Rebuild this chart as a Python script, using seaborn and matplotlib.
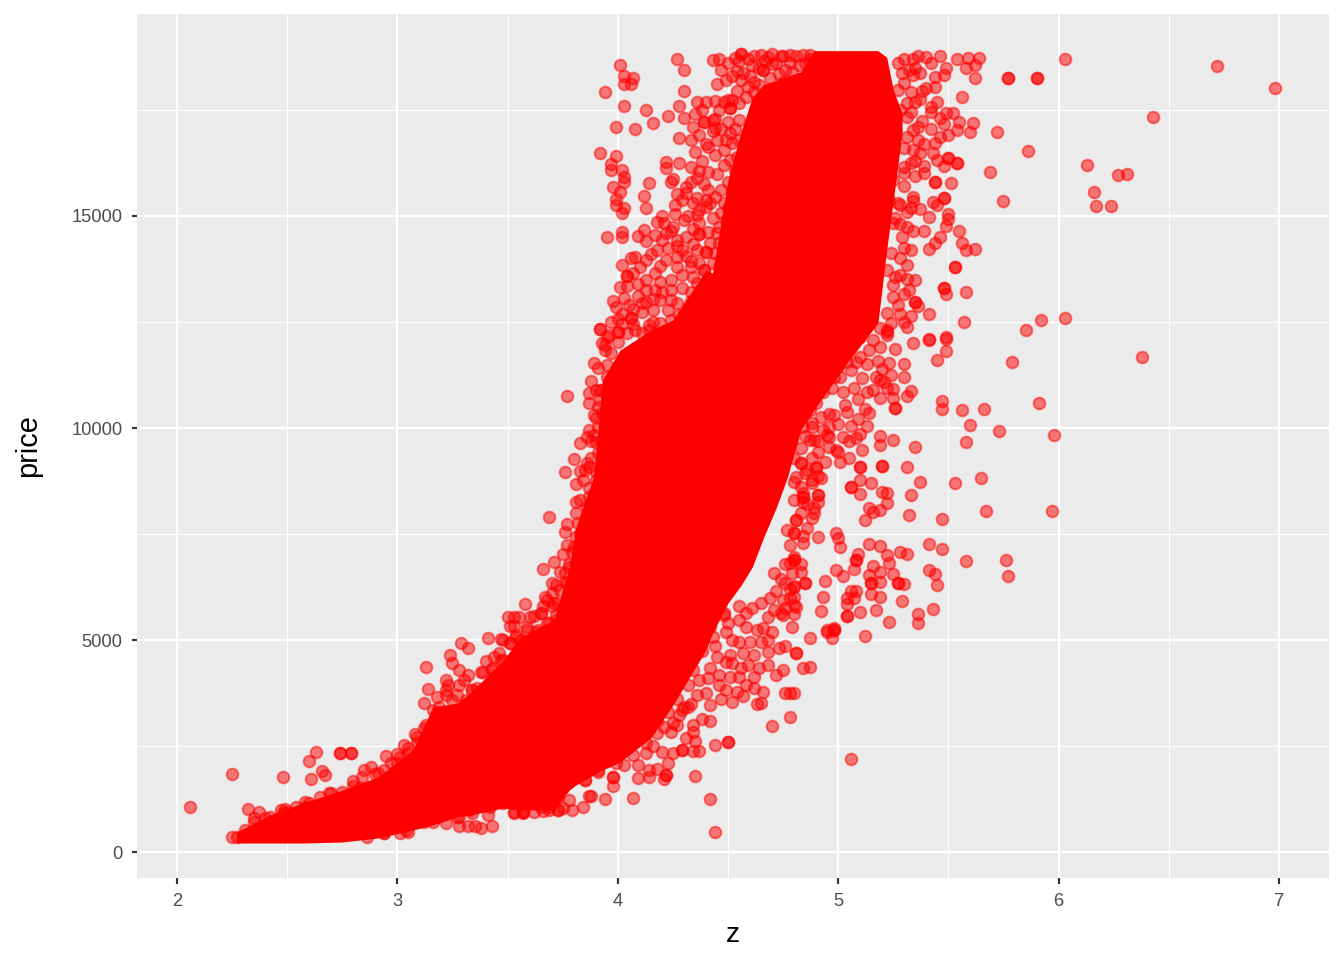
import pandas as pd
import numpy as np
import matplotlib
matplotlib.use("Agg")
import matplotlib.pyplot as plt
import seaborn as sns

# Values. The saturated middle of the cloud is too dense to
# read point by point, so it is kept as a low/high outline per z value.
band_z = [2.27, 2.42, 2.57, 2.75, 2.91, 3.07, 3.16, 3.27, 3.33, 3.48, 3.56, 3.71, 3.78, 3.81, 3.89, 3.91, 3.93,
          4.01, 4.15, 4.25, 4.40, 4.43, 4.50, 4.56, 4.61, 4.66, 4.72, 4.77, 4.83, 4.89, 5.04, 5.18, 5.22, 5.25, 5.29]
band_low = [212, 212, 212, 236, 330, 519, 637, 825, 872, 1038, 990, 990, 1462, 1580, 1816, 1886, 1934,
            2122, 2688, 3466, 4763, 5164, 5871, 6296, 6720, 7400, 8135, 8843, 9951, 10422, 11531, 12474, 14195, 15374, 16954]
band_high = [472, 872, 1155, 1462, 1769, 2405, 3419, 3513, 3749, 4527, 5070, 5471, 6720, 7664, 8843, 9951, 11130,
             11837, 12309, 12545, 13724, 13653, 15846, 17000, 17800, 18100, 18200, 18300, 18400, 18900, 18900, 18900, 18746, 17968, 17426]

# single points, by area of the plot
far_right = [(6.03, 18707), (6.72, 18534), (6.98, 18023), (5.77, 18243), (5.77, 18243), (5.90, 18243), (5.90, 18243),
             (6.43, 17331), (5.72, 16970), (5.86, 16537), (6.13, 16200), (5.69, 16042), (6.27, 15970), (6.31, 15980),
             (6.16, 15563), (6.17, 15233), (6.24, 15233), (5.75, 15350), (6.03, 12592), (5.92, 12545), (5.85, 12300),
             (6.38, 11672), (5.79, 11547), (5.91, 10580), (5.66, 10454), (5.60, 10077), (5.73, 9935), (5.98, 9825),
             (5.65, 8811), (5.67, 8041), (5.97, 8049), (5.76, 6878), (5.77, 6508), (5.58, 6862), (5.58, 9668),
             (5.56, 10430), (5.53, 8709), (5.06, 2185)]

upper_right = [(5.62, 18243), (5.56, 17803), (5.64, 18715), (5.59, 18730), (5.54, 18691), (5.62, 18557), (5.58, 18495),
               (5.49, 18479), (5.48, 18322), (5.46, 18770), (5.36, 18777), (5.34, 18691), (5.42, 18597), (5.37, 18377),
               (5.34, 18337), (5.44, 18267), (5.44, 18047), (5.40, 18007), (5.37, 17748), (5.45, 17693), (5.42, 17575),
               (5.42, 17457), (5.49, 17418), (5.52, 17418), (5.46, 17323), (5.55, 17221), (5.61, 17198), (5.60, 16970),
               (5.54, 17025), (5.48, 17158), (5.50, 16907), (5.46, 16868), (5.44, 16726), (5.39, 16695), (5.37, 16475),
               (5.43, 16475), (5.45, 16317), (5.50, 16372), (5.50, 16372), (5.54, 16239), (5.54, 16239), (5.48, 16184),
               (5.39, 16176), (5.39, 16003), (5.35, 15940), (5.44, 15807), (5.44, 15807), (5.51, 15775), (5.34, 15437),
               (5.34, 15350), (5.43, 15319), (5.48, 15421), (5.48, 15421), (5.45, 15256), (5.27, 15311), (5.37, 15154),
               (5.31, 15083), (5.41, 14981), (5.50, 15044), (5.50, 14918), (5.26, 14942), (5.49, 14769), (5.39, 14651),
               (5.55, 14651), (5.46, 14494), (5.44, 14352), (5.56, 14352), (5.41, 14211), (5.58, 14195), (5.62, 14219),
               (5.53, 13802), (5.53, 13802), (5.48, 13291), (5.48, 13291), (5.49, 13158), (5.58, 13197), (5.32, 13252),
               (5.35, 12977), (5.35, 12977), (5.36, 12875), (5.41, 12686), (5.31, 13503), (5.26, 13551), (5.30, 12505),
               (5.31, 12372), (5.57, 12505), (5.49, 12136), (5.41, 12090)]

lobe_edge = [(5.27, 18597), (5.29, 18361), (5.30, 18125), (5.33, 17929), (5.31, 17654), (5.28, 17496), (5.31, 17339),
             (5.34, 17025), (5.36, 16789), (5.34, 16553), (5.31, 16868), (5.33, 16239), (5.30, 16003), (5.25, 15846),
             (5.21, 15689), (5.23, 15374), (5.20, 15138), (5.25, 14824), (5.29, 14509), (5.31, 14745), (5.24, 14117),
             (5.30, 14235), (5.22, 13724), (5.25, 13370), (5.25, 13095), (5.27, 12898), (5.22, 12702), (5.24, 12466),
             (5.19, 12348), (5.22, 12309), (5.30, 16160), (5.27, 17968), (5.35, 18500), (5.30, 18700), (5.40, 18750),
             (5.32, 18450), (5.38, 17950), (5.35, 17700), (5.33, 17450), (5.38, 17250), (5.42, 17050), (5.36, 17100),
             (5.30, 16600), (5.35, 16300), (5.30, 15700), (5.28, 15250), (5.33, 15200), (5.28, 14800), (5.34, 14650),
             (5.33, 14200), (5.28, 14000), (5.31, 13850), (5.28, 13600), (5.35, 13500), (5.30, 13150), (5.28, 12700),
             (5.33, 12650), (5.22, 12200)]

mid_right = [(5.49, 12097), (5.41, 12073), (5.34, 11995), (5.49, 11822), (5.45, 11602), (5.30, 11507), (5.23, 11523),
             (5.26, 11853), (5.18, 11586), (5.24, 11248), (5.30, 11209), (5.33, 10871), (5.31, 10761), (5.25, 10918),
             (5.25, 10713), (5.26, 10478), (5.26, 10478), (5.12, 10446), (5.14, 10344), (5.19, 11130), (5.16, 10894),
             (5.47, 10643), (5.47, 10438), (5.19, 9809), (5.19, 9605), (5.25, 9723), (5.35, 9550), (5.11, 9479),
             (4.91, 9440), (5.31, 9071), (5.20, 9094), (5.20, 9094), (5.10, 9079), (5.10, 9079), (5.05, 9299),
             (5.01, 9189), (5.37, 8733), (5.15, 8709), (5.10, 8780), (5.06, 8615), (5.06, 8615), (5.10, 8442),
             (5.20, 8497), (5.22, 8473), (5.33, 8426), (4.91, 8418), (4.91, 8261), (5.22, 8222), (5.14, 8104),
             (5.19, 8065), (5.16, 8025), (5.32, 7939), (5.12, 7837), (5.47, 7852), (4.91, 7420), (4.84, 7294),
             (4.99, 7530), (5.00, 7397), (5.01, 7200), (5.14, 7263), (5.19, 7224), (5.22, 7003), (5.28, 7082),
             (5.31, 7019), (5.41, 7263), (5.47, 7137), (5.09, 7027), (5.08, 6886), (5.08, 6886), (5.23, 6807),
             (5.16, 6752), (5.07, 6673), (4.99, 6642), (5.02, 6516), (5.41, 6658), (5.44, 6563), (5.45, 6288),
             (5.19, 6595), (5.14, 6532), (5.25, 6555), (5.27, 6335), (5.27, 6335), (5.30, 6320), (5.15, 6335),
             (5.15, 6335), (5.19, 6359), (4.94, 6383), (4.85, 6335), (4.85, 6335), (4.80, 6272), (4.93, 6013),
             (5.06, 6162), (5.08, 6155), (5.15, 6092), (5.04, 6000), (5.04, 5848), (5.07, 5989), (5.19, 6005),
             (5.29, 5919), (4.92, 5683), (5.10, 5667), (5.17, 5699), (5.43, 5730), (5.36, 5604), (5.36, 5408),
             (5.04, 5557), (5.23, 5431), (4.98, 5274), (4.95, 5235), (4.79, 5314), (4.80, 5825), (4.80, 5612),
             (4.75, 5589), (4.89, 11445), (4.93, 11012), (4.93, 11012), (4.98, 11209), (4.88, 10108), (4.95, 9833),
             (4.89, 9715), (5.00, 9440), (4.83, 9165), (4.90, 9047), (4.81, 8851), (4.88, 8772), (4.84, 8379),
             (4.84, 8379), (4.91, 8418), (4.81, 7829), (4.89, 7986), (4.80, 7514), (4.80, 6886), (4.80, 6886),
             (4.71, 6571), (4.80, 6257), (4.78, 5982), (4.81, 5785), (4.71, 5707), (4.74, 5628), (4.65, 5864),
             (4.58, 5628), (4.48, 5628)]

mid_right_dense = [(4.77, 11995), (4.83, 12152), (4.89, 12112), (4.95, 12191), (5.02, 12073), (5.10, 12152),
                   (5.16, 12073), (5.22, 12270), (5.19, 11916), (5.14, 11837), (5.10, 11680), (5.04, 11562),
                   (4.98, 11719), (4.92, 11837), (4.87, 11523), (4.83, 11366), (4.78, 11523), (4.93, 11444),
                   (5.01, 11209), (5.06, 11366), (5.11, 11169), (5.17, 11209), (5.21, 11091), (4.93, 11091),
                   (4.93, 10855), (4.86, 10894), (4.81, 10658), (4.77, 10580), (4.87, 10423), (4.96, 10328),
                   (4.98, 10305), (5.03, 10540), (5.09, 10674), (5.04, 10383), (5.09, 10203), (4.88, 10030),
                   (4.87, 9715), (4.96, 9794), (5.02, 9794), (5.08, 9755), (5.10, 9857), (4.96, 10030), (4.78, 10069),
                   (4.79, 9715), (4.99, 9479), (4.83, 9519), (4.80, 9283), (4.83, 9165), (4.86, 9008), (4.90, 9086),
                   (4.91, 8874), (4.88, 8693), (4.80, 8733), (4.84, 8458), (4.84, 8261), (4.89, 8104), (4.88, 7868),
                   (4.80, 8300), (4.81, 7829), (4.77, 7593), (4.80, 7514), (4.78, 6807), (4.80, 6964), (4.79, 6571),
                   (4.76, 6335), (4.80, 6021), (4.75, 5942), (4.92, 8811), (4.84, 10030), (4.81, 11800), (4.85, 11700),
                   (4.90, 11650), (4.95, 11550), (5.00, 11450), (5.08, 11550), (5.13, 11500), (5.20, 11400),
                   (4.84, 11150), (4.90, 11200), (4.97, 10950), (5.02, 10850), (5.07, 10950), (5.13, 10850),
                   (5.19, 10700), (5.22, 10950), (4.82, 10950), (4.90, 10600), (4.85, 10350), (4.92, 10250),
                   (5.00, 10100), (5.06, 10050), (5.13, 10050), (4.82, 10200), (4.93, 9950), (4.85, 9800), (4.91, 9700),
                   (5.05, 9700), (4.96, 9550), (4.88, 9300), (4.94, 9200), (4.85, 8950), (4.83, 8600), (4.86, 8200),
                   (4.83, 8000), (4.86, 7650), (4.84, 7450), (4.78, 7250), (4.83, 6800), (4.83, 6600), (4.76, 6800),
                   (4.74, 6450), (4.78, 6200), (4.72, 6150), (4.69, 6000), (4.76, 5750), (4.68, 5550)]

upper_left = [(4.01, 18550), (4.27, 18707), (4.30, 18440), (4.03, 18298), (4.07, 18243), (4.03, 18117), (4.06, 18117),
              (3.94, 17913), (4.45, 18110), (4.30, 17937), (4.03, 17599), (4.13, 17504), (4.28, 17606), (4.23, 17355),
              (4.16, 17198), (3.99, 17103), (4.08, 17048), (4.28, 16828), (3.92, 16475), (3.99, 16412), (3.97, 16223),
              (3.97, 16082), (4.22, 16278), (4.22, 16137), (4.28, 16255), (4.02, 16082), (4.03, 15924), (4.03, 15806),
              (3.98, 15681), (4.14, 15767), (4.01, 15571), (4.12, 15476), (3.99, 15398), (3.99, 15256), (4.03, 15194),
              (4.02, 15076), (4.13, 15186), (4.26, 15256), (4.26, 15036), (4.25, 15870), (4.24, 15806), (4.31, 15689),
              (4.31, 15531), (4.27, 15508), (4.29, 15374), (4.36, 15885), (4.36, 15421), (4.20, 15005), (4.18, 14848),
              (4.21, 14840), (4.25, 14730), (4.24, 14651), (4.02, 14627), (4.02, 14494), (3.95, 14502), (4.12, 14667),
              (4.09, 14525), (4.13, 14400), (4.20, 14431), (4.27, 14431), (4.27, 14297), (4.18, 14195), (4.23, 14235),
              (4.13, 13967), (4.08, 14038), (4.06, 13999), (4.22, 13960), (4.27, 14038), (4.33, 13944), (4.37, 14565),
              (4.40, 14156), (4.39, 13723), (4.33, 13787), (4.19, 13826), (4.27, 13802), (4.04, 13582), (4.04, 13582),
              (4.13, 13488), (4.01, 13315), (4.04, 13346), (4.09, 13110), (3.98, 12996), (4.03, 13055), (3.99, 12859),
              (4.13, 12961), (4.05, 12898), (4.00, 12568), (4.06, 12584), (4.06, 12584), (4.11, 12741), (3.92, 12325),
              (4.00, 12269), (4.14, 12427), (4.43, 18675), (4.46, 18691), (4.50, 18612), (4.53, 18738), (4.56, 18809),
              (4.56, 18809), (4.62, 18770), (4.65, 18793), (4.70, 18809), (4.75, 18777), (4.81, 18777), (4.84, 18793),
              (4.54, 18424), (4.57, 18377), (4.61, 18557), (4.66, 18440), (4.66, 18440), (4.70, 18573), (4.76, 18440),
              (4.62, 18164), (4.54, 17952), (4.62, 17929), (4.50, 17732), (4.44, 17701), (4.40, 17677), (4.36, 17677),
              (4.38, 17496), (4.44, 17284), (4.39, 17206), (4.43, 17009), (4.51, 17536)]

top_edge = [(4.60, 18300), (4.64, 18100), (4.67, 18650), (4.69, 18250), (4.72, 18600), (4.73, 18350), (4.75, 18150),
            (4.78, 18620), (4.79, 18400), (4.82, 18550), (4.85, 18620), (4.87, 18700), (4.59, 18050), (4.56, 18200),
            (4.52, 18300), (4.49, 18200), (4.47, 18450), (4.58, 17800), (4.55, 18650), (4.59, 18700), (4.64, 18500),
            (4.68, 18750), (4.74, 18780), (4.78, 18790), (4.87, 18800)]

upper_left_dense = [(4.39, 17221), (4.43, 17261), (4.44, 17064), (4.51, 17536), (4.52, 17732), (4.55, 17654),
                    (4.50, 17221), (4.55, 17261), (4.45, 16789), (4.49, 16789), (4.41, 16616), (4.44, 16435),
                    (4.48, 16553), (4.52, 16710), (4.55, 16789), (4.41, 16042), (4.45, 15979), (4.48, 16199),
                    (4.51, 16317), (4.54, 16396), (4.41, 15610), (4.47, 15610), (4.40, 15374), (4.44, 15453),
                    (4.48, 15296), (4.36, 15020), (4.40, 15217), (4.37, 14840), (4.43, 14942), (4.47, 15060),
                    (4.41, 14627), (4.45, 14588), (4.37, 14573), (4.42, 14352), (4.46, 14352), (4.40, 14156),
                    (4.44, 14117), (4.43, 13881), (4.46, 13802), (4.39, 13724), (4.36, 13409), (4.40, 13331),
                    (4.45, 13488), (4.33, 13213), (4.37, 13095), (4.43, 13095), (4.27, 12938), (4.32, 12859),
                    (4.24, 13016), (4.19, 13016), (4.23, 12780), (4.28, 12663), (4.34, 12663), (4.16, 12780),
                    (4.19, 12466), (4.25, 12309), (4.31, 12388), (4.37, 12388), (4.14, 12309), (4.08, 12309),
                    (4.04, 12230), (4.11, 12230), (4.43, 12780), (4.30, 17300), (4.34, 17100), (4.37, 16900),
                    (4.40, 16700), (4.35, 16500), (4.38, 16300), (4.33, 16150), (4.37, 16050), (4.33, 15800),
                    (4.39, 15750), (4.42, 15300), (4.34, 15300), (4.37, 15150), (4.32, 15000), (4.30, 14900),
                    (4.34, 14700), (4.31, 14500), (4.34, 14350), (4.29, 14200), (4.36, 14200), (4.31, 14050),
                    (4.37, 13900), (4.29, 13600), (4.34, 13550), (4.24, 13500), (4.19, 13450), (4.29, 13300),
                    (4.24, 13250), (4.17, 13250), (4.13, 13250), (4.09, 13400), (4.20, 13200), (4.33, 13000),
                    (4.16, 13050), (4.11, 12950), (4.07, 12800), (4.02, 12700), (3.97, 12500), (3.95, 12150),
                    (4.02, 12450), (4.07, 12450), (4.16, 12500), (4.24, 12550), (4.35, 17400), (4.33, 16800),
                    (4.46, 17500), (4.48, 17700), (4.47, 17050), (4.53, 17050), (4.51, 16950), (4.53, 16050),
                    (4.50, 15800), (4.52, 15600), (4.50, 15200), (4.49, 14900), (4.46, 14750), (4.49, 14500),
                    (4.48, 14200), (4.49, 13950), (4.47, 13600), (4.41, 13150), (4.43, 12950), (4.46, 13250),
                    (4.38, 12800), (4.40, 12600), (4.33, 12500), (4.30, 12700), (4.22, 14600), (4.17, 14550),
                    (4.15, 14100), (4.10, 13800), (4.17, 13650), (4.07, 13650), (4.02, 13850)]

mid_left = [(3.92, 12325), (4.00, 12270), (3.94, 11955), (3.94, 11838), (4.00, 12034), (3.89, 11523), (3.91, 11421),
            (3.95, 11484), (3.77, 10753), (3.87, 10816), (3.87, 10580), (3.91, 10486), (3.92, 10894), (3.90, 10226),
            (3.87, 9951), (3.86, 9794), (3.90, 9676), (3.83, 9637), (3.80, 9275), (3.76, 8961), (3.83, 8984),
            (3.88, 9283), (3.86, 9165), (3.90, 8969), (3.81, 8678), (3.84, 8772), (3.87, 8576), (3.81, 8246),
            (3.81, 8002), (3.69, 7892), (3.86, 8143), (3.77, 7735), (3.76, 7554), (3.82, 7750), (3.81, 7436),
            (3.77, 7240), (3.75, 7019), (3.71, 6839), (3.66, 6674), (3.79, 7082), (3.70, 6336), (3.76, 6375),
            (3.67, 6021), (3.70, 6115), (3.70, 5801), (3.73, 5864), (3.65, 5628), (3.97, 11759), (3.95, 11209),
            (3.93, 10894), (3.92, 10659), (3.93, 10344), (3.91, 10030), (3.89, 9833), (3.93, 9637), (3.91, 9401),
            (3.87, 9087), (3.90, 8772), (3.87, 8379), (3.86, 7907), (3.83, 7515), (3.85, 7750), (3.80, 7200),
            (3.83, 7043), (3.78, 6729), (3.81, 6807), (3.76, 6571), (3.74, 6178), (3.77, 6336), (3.71, 5864),
            (3.75, 5628), (3.54, 5117), (3.59, 5235), (3.63, 5195), (3.69, 5156), (3.51, 4920), (3.56, 5000),
            (3.60, 4881), (3.47, 4527), (3.48, 5000), (3.85, 7700), (3.83, 8300), (3.85, 9000), (3.88, 9700),
            (3.89, 10300), (3.90, 10900), (3.88, 11100), (3.93, 12000), (3.96, 12200), (3.78, 6800), (3.74, 6600),
            (3.72, 6300), (3.72, 5600), (3.66, 5800), (3.60, 5550), (3.68, 5950)]

lower_right = [(5.12, 5093), (4.87, 5054), (4.98, 5235), (4.98, 5235), (4.97, 5054), (4.95, 5195), (5.04, 5565),
               (4.76, 4857), (4.68, 4708), (4.81, 4684), (4.81, 4684), (4.87, 4370), (4.84, 4331), (4.75, 4291),
               (4.72, 4166), (4.64, 4331), (4.62, 4134), (4.78, 3741), (4.76, 3741), (4.80, 3741), (4.66, 3765),
               (4.62, 3859), (4.57, 3686), (4.52, 3537), (4.47, 3608), (4.63, 3490), (4.65, 3505), (4.78, 3175),
               (4.70, 2971), (4.42, 3458), (4.38, 3128), (4.42, 3097), (4.34, 2995), (4.34, 2837), (4.31, 2680),
               (4.35, 2625), (4.50, 2586), (4.50, 2586), (4.44, 2515), (4.37, 2381), (4.34, 2381), (4.29, 2405),
               (4.29, 2405), (4.25, 2342), (4.20, 2350), (4.13, 2326), (4.23, 2090), (4.22, 1815), (4.22, 1815),
               (4.35, 1792), (4.18, 1949), (4.14, 1776), (4.21, 1713), (4.09, 1737), (3.98, 1776), (3.98, 1776),
               (3.98, 1564), (3.85, 1698), (3.91, 1894), (3.87, 1328), (3.88, 1328), (3.94, 1250), (4.07, 1281),
               (4.42, 1257), (4.44, 471), (3.78, 1226), (3.79, 990), (3.84, 1053), (3.73, 1305), (3.69, 990),
               (3.62, 950), (3.57, 912), (3.53, 912), (3.75, 1030), (4.43, 5077), (4.48, 5588), (4.55, 5470),
               (4.58, 5313), (4.63, 5234), (4.66, 5274), (4.49, 5195), (4.52, 5000), (4.65, 4959), (4.51, 4645),
               (4.45, 4606), (4.57, 4684), (4.62, 4645), (4.49, 4488), (4.52, 4449), (4.56, 4331), (4.51, 4134),
               (4.55, 4134), (4.46, 4174), (4.41, 4095), (4.37, 4056), (4.46, 3938), (4.54, 3780), (4.49, 3820),
               (4.36, 3702), (4.30, 3427), (4.32, 3427), (4.28, 3230), (4.27, 2995), (4.24, 2837), (4.29, 3348),
               (4.21, 2955), (4.18, 2798), (4.13, 2562), (4.07, 2287), (4.09, 2051), (4.14, 1933), (4.03, 2051),
               (3.99, 2090), (3.91, 1933), (3.81, 1855), (3.78, 1698), (3.85, 1698), (3.73, 1383), (3.66, 1423),
               (3.65, 1147), (3.58, 1305), (3.53, 1147), (3.57, 951), (3.69, 1069), (3.73, 990), (4.61, 5750),
               (4.55, 5800), (4.50, 5400), (4.42, 5300), (4.38, 4750), (4.44, 4850), (4.55, 4950), (4.60, 4950),
               (4.70, 5200), (4.73, 4800), (4.42, 4350), (4.34, 4300), (4.32, 3950), (4.40, 3750), (4.33, 3500),
               (4.27, 3600), (4.23, 3300), (4.18, 3100), (4.25, 3050), (4.12, 2800), (4.07, 2600), (4.00, 2300),
               (3.95, 2150), (4.16, 2500), (4.59, 4400), (4.68, 4400), (4.58, 3950), (4.68, 5000)]

lower_left = [(2.06, 1069), (2.25, 1831), (2.48, 1776), (2.32, 1014), (2.37, 951), (2.47, 990), (2.49, 1006),
              (2.54, 1053), (2.58, 1187), (2.63, 2366), (2.60, 2153), (2.61, 1713), (2.66, 1918), (2.67, 1815),
              (2.74, 2326), (2.74, 2326), (2.79, 2326), (2.79, 2326), (2.80, 1674), (2.84, 1776), (2.85, 1934),
              (2.88, 2012), (2.95, 2264), (3.00, 2311), (3.03, 2523), (3.08, 2774), (3.09, 2720), (3.13, 2994),
              (3.12, 3505), (3.14, 3835), (3.22, 3820), (3.23, 3938), (3.22, 4056), (3.13, 4370), (3.24, 4645),
              (3.25, 4448), (3.29, 4920), (3.32, 4802), (3.28, 4291), (3.30, 4056), (3.32, 4174), (3.41, 5054),
              (3.47, 5022), (3.46, 4684), (3.58, 5840), (3.50, 5549), (3.53, 5549), (3.55, 5549), (3.51, 5329),
              (3.53, 5329), (3.62, 5573), (3.65, 5628), (3.59, 5313), (3.64, 5234), (3.68, 5407), (3.72, 5470),
              (3.43, 613), (3.38, 574), (3.35, 613), (3.32, 613), (3.28, 613), (3.16, 715), (3.22, 676), (3.05, 479),
              (3.01, 440), (2.94, 440), (3.53, 950), (3.57, 935), (3.66, 974), (3.73, 990), (2.25, 361), (2.27, 346),
              (2.31, 518), (2.35, 715), (3.24, 990), (3.28, 833), (3.41, 872), (3.34, 912), (3.38, 4252), (3.43, 4291),
              (3.34, 3820), (3.36, 3859), (2.42, 833), (2.48, 912), (2.58, 1069), (2.65, 1305), (2.69, 1383),
              (2.75, 1423), (2.83, 1501), (2.91, 1855), (2.94, 1933), (2.97, 2090), (3.01, 2248), (3.05, 2326),
              (3.09, 2562), (3.12, 2916), (3.16, 3348), (3.19, 3427), (3.25, 3584), (3.31, 3584), (3.34, 3820),
              (3.39, 4252), (3.43, 4331), (3.48, 4527), (3.54, 5077), (3.59, 4842), (3.65, 5156), (3.69, 5392),
              (3.75, 5706), (3.51, 4920), (3.60, 1305), (3.68, 1305), (3.73, 1383), (3.65, 1069), (3.54, 1226),
              (3.48, 1147), (3.42, 1069), (3.33, 990), (3.27, 833), (3.18, 833), (3.12, 715), (3.04, 519), (2.94, 440),
              (2.86, 361), (3.76, 1698), (3.72, 1462), (3.44, 4600), (3.40, 4500), (3.28, 3950), (3.22, 3700),
              (3.18, 3650), (3.27, 3700), (3.05, 2450), (3.00, 2100), (2.90, 1850), (2.80, 1550), (2.70, 1400),
              (2.60, 1150), (2.50, 950), (2.40, 800), (2.35, 800)]

x_major = [2, 3, 4, 5, 6, 7]
x_minor = [2.5, 3.5, 4.5, 5.5, 6.5]
y_major = [0, 5000, 10000, 15000]
y_minor = [2500, 7500, 12500, 17500]

df = pd.DataFrame(far_right + upper_right + lobe_edge + mid_right + mid_right_dense + upper_left + top_edge
                  + upper_left_dense + mid_left + lower_right + lower_left, columns=['z', 'price'])

sns.set_theme(style='darkgrid', rc={'axes.facecolor': '#EBEBEB', 'grid.color': 'white'})
plt.rcParams['font.family'] = ['Liberation Sans', 'DejaVu Sans']

fig = plt.figure(figsize=(1344 / 144, 960 / 144), dpi=144)
ax = fig.add_axes([137 / 1344, 1 - 878 / 960, (1329 - 137) / 1344, (878 - 14) / 960])

# saturated part of the cloud
ax.fill_between(band_z, band_low, band_high, color='red', lw=0, zorder=2)
sns.scatterplot(data=df, x='z', y='price', color='red', alpha=0.5, s=34, edgecolor='red', linewidth=1, ax=ax, zorder=3)

ax.set_xlim(1.8185, 7.227)
ax.set_ylim(-613, 19764)
ax.set_xticks(x_major)
ax.set_xticks(x_minor, minor=True)
ax.set_yticks(y_major)
ax.set_yticks(y_minor, minor=True)
ax.grid(which='major', color='white', lw=1.07)
ax.grid(which='minor', color='white', lw=0.53)
ax.set_axisbelow(True)
for s in ax.spines.values():
    s.set_visible(False)
ax.tick_params(which='major', bottom=True, left=True, length=2.75, width=1.07, color='#333333',
               labelsize=9.2, labelcolor='#4D4D4D', pad=4.5)
ax.tick_params(which='minor', bottom=False, left=False)
ax.set_xlabel('z', fontsize=14, color='black', labelpad=6.5)
ax.set_ylabel('price', fontsize=14.5, color='black', labelpad=14.5)

fig.savefig('out.png', dpi=144)
